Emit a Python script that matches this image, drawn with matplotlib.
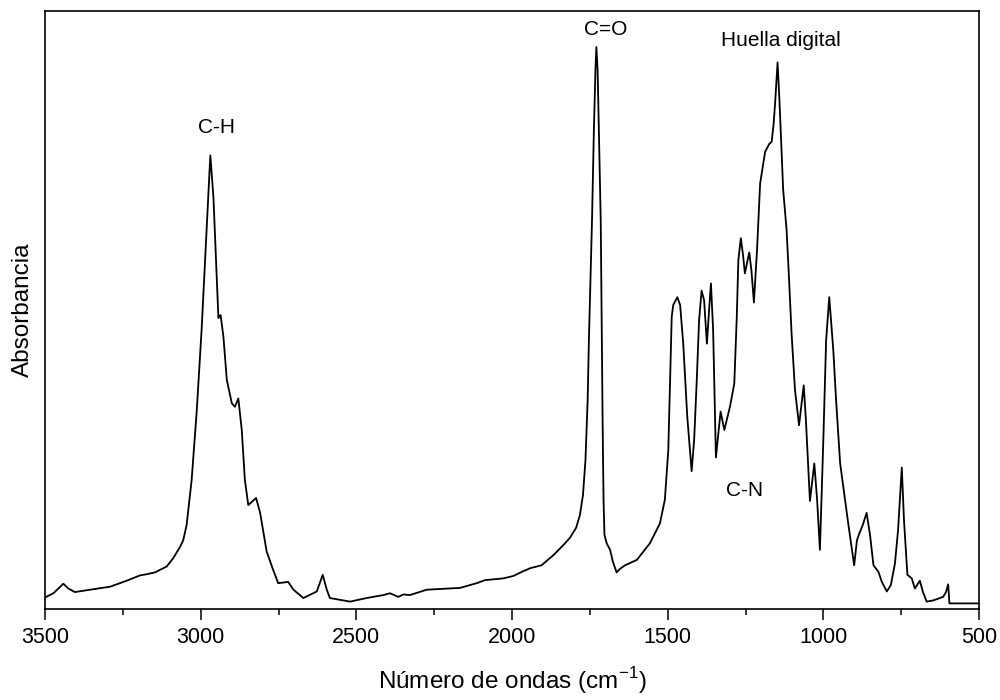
import matplotlib.pyplot as plt
from matplotlib.ticker import MultipleLocator

plt.rcParams['font.family'] = ['Liberation Sans', 'DejaVu Sans']

# FTIR spectrum (wavenumber cm-1, absorbance a.u.)
wavenumber = [3500, 3473, 3457, 3441, 3425, 3404, 3355, 3291, 3238, 3195, 3173, 3147,
              3109, 3088, 3066, 3056, 3045, 3029, 3013, 2997, 2981, 2969, 2959, 2948,
              2943, 2936, 2927, 2916, 2900, 2890, 2879, 2868, 2858, 2847, 2822, 2809,
              2788, 2767, 2751, 2719, 2702, 2670, 2627, 2608, 2595, 2585, 2520, 2467,
              2413, 2392, 2365, 2349, 2328, 2274, 2167, 2113, 2087, 2028, 1996, 1964,
              1942, 1905, 1867, 1835, 1814, 1794, 1782, 1772, 1764, 1757, 1753, 1748,
              1743, 1737, 1732, 1729, 1725, 1721, 1715, 1712, 1709, 1706, 1703, 1696,
              1685, 1676, 1664, 1653, 1637, 1599, 1557, 1525, 1509, 1498, 1487, 1482,
              1469, 1460, 1450, 1437, 1423, 1415, 1407, 1399, 1391, 1383, 1374, 1367,
              1361, 1354, 1345, 1330, 1318, 1300, 1286, 1278, 1273, 1265, 1258, 1252,
              1238, 1231, 1223, 1213, 1203, 1187, 1174, 1166, 1160, 1155, 1147, 1141,
              1134, 1129, 1118, 1110, 1102, 1091, 1078, 1063, 1056, 1043, 1029, 1020,
              1011, 1001, 991, 981, 968, 959, 946, 920, 901, 892, 884, 873, 861, 850,
              839, 823, 812, 796, 783, 770, 760, 748, 741, 730, 716, 706, 696, 690,
              680, 668, 647, 615, 606, 599, 595, 500]
absorbance = [0.016, 0.023, 0.031, 0.039, 0.031, 0.025, 0.029, 0.034, 0.044, 0.053, 0.055, 0.058,
              0.068, 0.082, 0.101, 0.112, 0.138, 0.213, 0.326, 0.465, 0.633, 0.758, 0.688, 0.549,
              0.485, 0.490, 0.454, 0.381, 0.342, 0.336, 0.350, 0.297, 0.213, 0.171, 0.183, 0.158,
              0.093, 0.062, 0.040, 0.042, 0.029, 0.015, 0.026, 0.054, 0.029, 0.015, 0.009, 0.015,
              0.020, 0.023, 0.017, 0.021, 0.020, 0.029, 0.032, 0.040, 0.045, 0.048, 0.052, 0.060,
              0.065, 0.070, 0.087, 0.104, 0.116, 0.133, 0.154, 0.188, 0.247, 0.347, 0.448, 0.549,
              0.649, 0.800, 0.901, 0.940, 0.901, 0.800, 0.649, 0.482, 0.314, 0.180, 0.121, 0.107,
              0.096, 0.076, 0.058, 0.064, 0.070, 0.079, 0.107, 0.140, 0.180, 0.263, 0.487, 0.507,
              0.520, 0.507, 0.442, 0.319, 0.228, 0.280, 0.375, 0.482, 0.531, 0.515, 0.442, 0.498,
              0.543, 0.465, 0.251, 0.328, 0.297, 0.336, 0.375, 0.487, 0.582, 0.619, 0.591, 0.560,
              0.595, 0.565, 0.511, 0.599, 0.711, 0.764, 0.777, 0.781, 0.809, 0.845, 0.914, 0.851,
              0.761, 0.700, 0.633, 0.549, 0.459, 0.364, 0.305, 0.372, 0.314, 0.178, 0.241, 0.180,
              0.096, 0.263, 0.448, 0.520, 0.431, 0.347, 0.241, 0.140, 0.070, 0.112, 0.124, 0.138,
              0.158, 0.121, 0.070, 0.059, 0.042, 0.026, 0.037, 0.073, 0.129, 0.234, 0.146, 0.054,
              0.048, 0.031, 0.039, 0.044, 0.025, 0.009, 0.011, 0.017, 0.025, 0.038, 0.006, 0.006]

# band labels
band_names = ['C-H', 'C=O', 'Huella digital', 'C-N']
band_x = [2948, 1698, 1136, 1252]
band_y = [0.805, 0.970, 0.950, 0.195]

fig = plt.figure(figsize=(10, 7), dpi=100)
ax = fig.add_axes([0.045, 0.13, 0.934, 0.854])

ax.plot(wavenumber, absorbance, color='black', linewidth=1.3, solid_joinstyle='round')

for name, x, y in zip(band_names, band_x, band_y):
    ax.text(x, y, name, ha='center', va='center', fontsize=15)

ax.set_xlim(3500, 500)
ax.set_ylim(-0.0034, 1.0)
ax.xaxis.set_major_locator(MultipleLocator(500))
ax.xaxis.set_minor_locator(MultipleLocator(250))
ax.tick_params(axis='x', which='major', direction='out', length=8, width=1.1,
               labelsize=15.5, pad=5)
ax.tick_params(axis='x', which='minor', direction='out', length=4.3, width=1.1)
ax.set_yticks([])
for s in ax.spines.values():
    s.set_linewidth(1.2)

ax.set_xlabel(r'Número de ondas (cm$^{\mathregular{-1}}$)', fontsize=17.5, labelpad=12)
ax.set_ylabel('Absorbancia', fontsize=17.5, labelpad=8)

fig.savefig('out.png', dpi=100)
